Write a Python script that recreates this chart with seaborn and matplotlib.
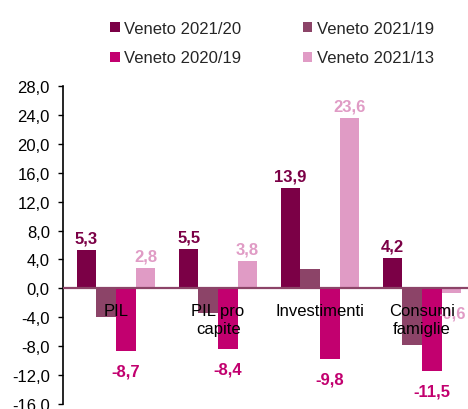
import matplotlib
matplotlib.use("Agg")
import matplotlib.pyplot as plt
import seaborn as sns
import pandas as pd
from matplotlib.patches import Patch
from matplotlib.ticker import FuncFormatter, MultipleLocator

categories = ["PIL", "PIL pro\ncapite", "Investimenti", "Consumi\nfamiglie"]
series_names = ["Veneto 2021/20", "Veneto 2021/19", "Veneto 2020/19", "Veneto 2021/13"]
v_2021_20 = [5.3, 5.5, 13.9, 4.2]
v_2021_19 = [-3.9, -3.4, 2.7, -7.8]
v_2020_19 = [-8.7, -8.4, -9.8, -11.5]
v_2021_13 = [2.8, 3.8, 23.6, -0.6]
colors = ["#7B0046", "#8C4468", "#C2006F", "#E09BC5"]
labelled = [True, False, True, True]

values = [v_2021_20, v_2021_19, v_2020_19, v_2021_13]
rows = []
for name, vals in zip(series_names, values):
    for cat, v in zip(categories, vals):
        rows.append({"cat": cat, "serie": name, "val": v})
df = pd.DataFrame(rows)

sns.set_style("white")
plt.rcParams["font.family"] = ["Liberation Sans", "DejaVu Sans"]
plt.rcParams["axes.unicode_minus"] = False

fig = plt.figure(figsize=(4.68, 4.10), dpi=100)
ax = fig.add_axes([63 / 468, 1 - 405 / 410, 405 / 468, (405 - 87) / 410])

sns.barplot(data=df, x="cat", y="val", hue="serie", hue_order=series_names,
            order=categories, palette=colors, width=0.77, ax=ax, legend=False,
            saturation=1, linewidth=0)

ax.set_xlim(-0.52, 3.45)
ax.set_ylim(-16, 28)
ax.yaxis.set_major_locator(MultipleLocator(4))
ax.yaxis.set_major_formatter(FuncFormatter(lambda v, p: f"{v:.1f}".replace(".", ",")))
ax.tick_params(axis="y", left=True, length=3.5, width=1, pad=6, labelsize=12,
               colors="black", direction="out")
ax.set_xticks([])
ax.set_xlabel("")
ax.set_ylabel("")
for s in ["top", "right", "bottom"]:
    ax.spines[s].set_visible(False)
ax.spines["left"].set_color("black")
ax.spines["left"].set_linewidth(1.2)
ax.axhline(0, color="#8C4468", lw=1.6, zorder=3)

# category labels inside the plot below zero line
for i, cat in enumerate(categories):
    ax.text(i, -2.0, cat, ha="center", va="top", fontsize=12, color="black",
            linespacing=1.25, zorder=4)

# data labels
for cont, col, lab in zip(ax.containers, colors, labelled):
    if not lab:
        continue
    for bar in cont:
        h = bar.get_height()
        x = bar.get_x() + bar.get_width() / 2
        txt = f"{h:.1f}".replace(".", ",")
        if h >= 0:
            ax.annotate(txt, (x, h), xytext=(0, 3), textcoords="offset points",
                        ha="center", va="bottom", fontsize=12, fontweight="bold",
                        color=col)
        else:
            ax.annotate(txt, (x, h), xytext=(0, -9), textcoords="offset points",
                        ha="center", va="top", fontsize=12, fontweight="bold",
                        color=col)

# legend (column-major order to match reference)
order = [0, 2, 1, 3]
handles = [Patch(facecolor=colors[i], edgecolor="none") for i in order]
labels = [series_names[i] for i in order]
fig.legend(handles, labels, ncol=2, loc="upper left", bbox_to_anchor=(97 / 468, 1 - 9 / 410),
           frameon=False, fontsize=12, handlelength=0.55, handleheight=0.55,
           handletextpad=0.3, columnspacing=3.7, labelspacing=0.85, borderpad=0.3)

fig.savefig("out.png", dpi=100)
